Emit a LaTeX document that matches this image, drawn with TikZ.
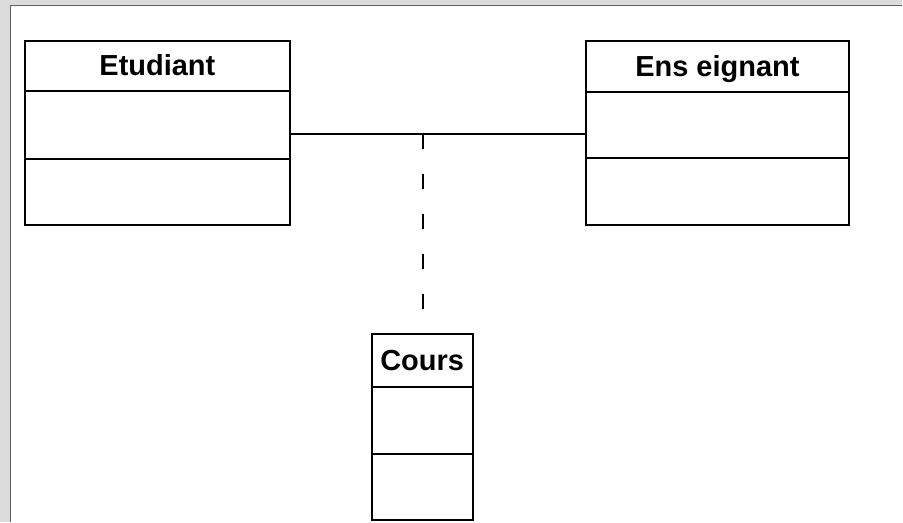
\documentclass[tikz,border=0pt]{standalone}
\usepackage{fontspec}
\newfontfamily\umlfont{Liberation Sans}
\usetikzlibrary{positioning}
\definecolor{framegray}{RGB}{220,220,220}
\definecolor{frameedge}{RGB}{95,95,95}

\begin{document}
\begin{tikzpicture}[x=1pt,y=-1pt,line width=2pt,
  class head/.style={draw,rectangle,outer sep=0pt,inner sep=0pt,text height=20pt,text depth=0pt,font=\umlfont\bfseries\fontsize{29}{31}\selectfont},
  class part/.style={draw,rectangle,outer sep=0pt,inner sep=0pt}]
% frame
  \fill[framegray] (0,0) rectangle (903,522);
  \fill[white] (11,6) rectangle (903,522);
  \draw[frameedge,line width=1.5pt] (10.5,522) -- (10.5,5.5) -- (903,5.5);
  \useasboundingbox (0,0) rectangle (903,522);
% nodes
  \node[class head,minimum width=265pt,minimum height=50pt] (etu) at (157.5,66) {Etudiant};
  \node[class part,minimum width=265pt,minimum height=68pt] (etu attr) [below=0pt of etu] {};
  \node[class part,minimum width=265pt,minimum height=66pt] (etu ops) [below=0pt of etu attr] {};

  \node[class head,minimum width=264pt,minimum height=51pt] (ens) at (718,66.5) {Ens eignant};
  \node[class part,minimum width=264pt,minimum height=66pt] (ens attr) [below=0pt of ens] {};
  \node[class part,minimum width=264pt,minimum height=67pt] (ens ops) [below=0pt of ens attr] {};

  \node[class head,minimum width=101pt,minimum height=53pt] (cours) at (422.5,360.5) {Cours};
  \node[class part,minimum width=101pt,minimum height=67pt] (cours attr) [below=0pt of cours] {};
  \node[class part,minimum width=101pt,minimum height=66pt] (cours ops) [below=0pt of cours attr] {};
  %edges
  \coordinate (assoc) at (423,134);
  \draw[line width=1.6pt] (etu attr.east |- assoc) -- (ens attr.west |- assoc);
  \draw[dash pattern=on 15pt off 25pt] (assoc) -- (assoc |- cours.north);
\end{tikzpicture}
\end{document}
